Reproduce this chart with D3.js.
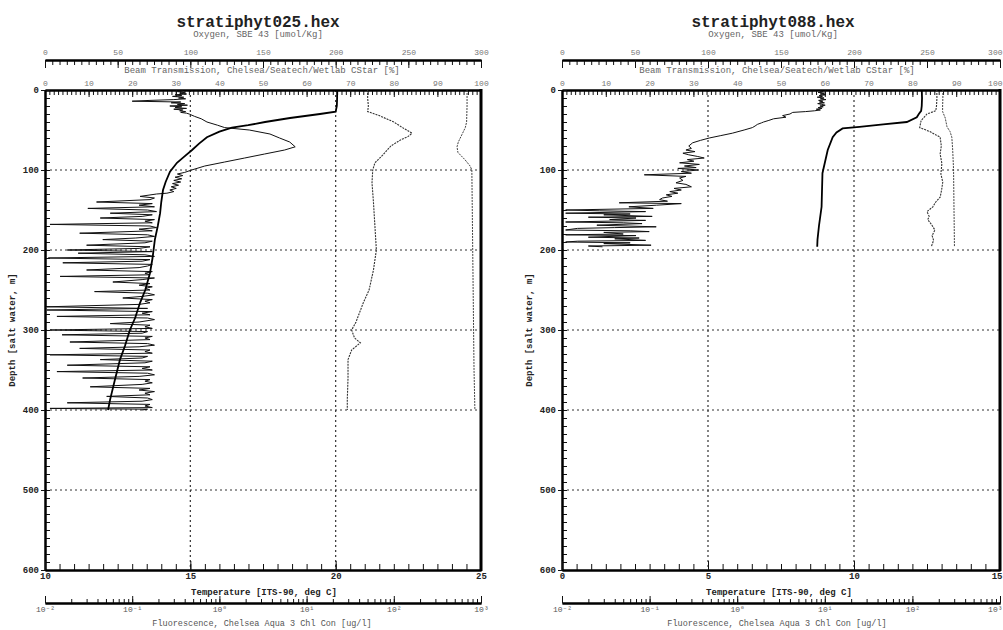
<!DOCTYPE html>
<html>
<head>
<meta charset="utf-8">
<script src="https://cdn.jsdelivr.net/npm/d3@7"></script>
<style>
  body { margin: 0; background: #fff; }
  text { font-family: "Liberation Mono", "DejaVu Sans Mono", monospace; fill: #222; }
</style>
</head>
<body>
<svg id="chart" width="1003" height="630"></svg>
<script>
////  data ([depth m, value])

var titles = ["stratiphyt025.hex", "stratiphyt088.hex"];
var depthTicks = [0, 100, 200, 300, 400, 500, 600];
var tempDomain025 = [10, 25];
var tempDomain088 = [0, 15];
var fluoTicks = [0.01, 0.1, 1, 10, 100, 1000];

// stratiphyt025
var temp025 = [[0,20.05],[10,20.05],[20,20.04],[27,20.0],[30,19.46],[35,18.43],[40,17.57],[44,16.99],[47,16.43],[52,16.0],
  [59,15.57],[67,15.3],[75,15.06],[83,14.8],[91,14.54],[102,14.3],[115,14.15],[125,14.06],[140,14.0],[154,13.96],
  [170,13.88],[187,13.78],[210,13.7],[229,13.61],[250,13.45],[266,13.27],[285,13.1],[300,12.92],[320,12.75],
  [337,12.58],[360,12.42],[387,12.24],[400,12.17]];
var oxy025 = [[0,222],[10,222],[20,222.5],[27,222],[32,230],[40,240],[47,246],[54,252.5],[58,250],[62,245],[70,238],
  [81,232.6],[91,227],[100,225.5],[116,225],[140,226],[170,227],[200,228],[225,226],[250,223],[266,219],[290,214],
  [300,211],[310,213],[316,217],[325,211],[337,208.5],[360,208.5],[387,208],[400,208]];
var beam025 = [[0,96.8],[20,96.8],[40,96.7],[47,96.4],[56,95.6],[65,94.8],[71,94.5],[78,94.7],[87,96.3],[95,97.5],
  [100,97.9],[150,98.0],[200,98.1],[250,98.2],[300,98.3],[350,98.4],[400,98.6]];
var fluo025 = [[1,0.38],[2,0.33],[3,0.40],[4,0.35],[5,0.42],[6,0.31],[7,0.37],[8,0.29],[9,0.39],[10,0.34],[11,0.41],
  [12,0.30],[13,0.16],[14,0.10],[15,0.36],[16,0.28],[17,0.40],[18,0.33],[19,0.43],[20,0.27],[21,0.37],[22,0.31],
  [23,0.42],[24,0.30],[25,0.38],[26,0.35],[27,0.41],[28,0.36],[29,0.42],[30,0.45],[33,0.52],[36,0.62],[40,0.72],
  [44,0.95],[47,1.15],[50,2.2],[55,3.8],[60,4.9],[65,6.4],[71,7.4],[75,5.6],[80,3.3],[85,1.95],[90,1.15],[95,0.68],
  [100,0.48],[103,0.40],[105,0.33],[107,0.38],[109,0.31],[111,0.37],[113,0.30],[115,0.36],[117,0.29],[119,0.34],
  [121,0.28],[123,0.32],[125,0.27],[127,0.30],[129,0.25],
  [130,0.19],[133,0.123],[135,0.18],[137,0.16],[140,0.039],[142,0.17],[144,0.12],[146,0.18],[148,0.031],[150,0.15],
  [152,0.19],[154,0.056],[156,0.17],[158,0.13],[160,0.043],[162,0.18],[164,0.14],[166,0.17],[168,0.0114],[170,0.16],
  [172,0.19],[174,0.12],[176,0.17],[179,0.025],[181,0.15],[183,0.18],[185,0.11],[187,0.046],[189,0.17],[191,0.14],
  [194,0.030],[196,0.16],[198,0.12],[200,0.018],[202,0.17],[204,0.024],[206,0.14],[208,0.18],[210,0.0109],[212,0.16],
  [214,0.13],[216,0.016],[218,0.17],[220,0.15],[222,0.12],[225,0.030],[227,0.17],[229,0.14],[231,0.16],[233,0.0149],
  [235,0.18],[237,0.13],[240,0.060],[242,0.16],[244,0.12],[246,0.17],[248,0.14],[250,0.16],[252,0.037],[254,0.15],
  [256,0.18],[258,0.13],[260,0.078],[262,0.17],[264,0.14],[266,0.16],[268,0.12],[271,0.0105],[273,0.15],[275,0.0105],
  [277,0.17],[279,0.13],[281,0.16],[283,0.0137],[285,0.15],[287,0.18],[290,0.12],[292,0.056],[294,0.16],[296,0.14],
  [298,0.17],[300,0.0114],[302,0.15],[304,0.13],[306,0.0157],[308,0.17],[310,0.14],[312,0.16],[315,0.0193],[317,0.15],
  [319,0.18],[321,0.12],[323,0.025],[325,0.16],[327,0.14],[329,0.17],[331,0.0114],[333,0.15],[335,0.13],[337,0.043],
  [339,0.17],[341,0.14],[344,0.018],[346,0.16],[348,0.13],[350,0.17],[352,0.0137],[354,0.15],[356,0.18],[358,0.12],
  [360,0.027],[362,0.16],[364,0.14],[366,0.17],[368,0.13],[371,0.033],[373,0.16],[375,0.12],[377,0.18],[379,0.14],
  [381,0.16],[383,0.051],[385,0.15],[387,0.17],[389,0.13],[391,0.018],[393,0.16],[395,0.14],[397,0.17],[398,0.0114],
  [399,0.15],[400,0.13]];

// stratiphyt088
var temp088 = [[0,12.32],[10,12.33],[20,12.32],[26,12.3],[30,12.22],[34,12.15],[40,11.81],[43,11.0],[46,10.19],[48,9.61],
  [53,9.4],[59,9.27],[75,9.10],[104,8.92],[146,8.89],[170,8.8],[187,8.75],[196,8.74]];
var oxy088 = [[0,256.7],[10,256.8],[20,256.5],[26,256],[30,250],[38,246],[47,245],[52,252],[59,259],[70,259.8],[80,259],
  [92,260.2],[105,259.5],[115,260.8],[125,260],[134,259],[140,256],[146,254],[152,250],[158,251.5],[162,250.5],[168,253],
  [175,255.4],[182,253.5],[188,254.5],[194,253.3],[196,253]];
var beam088 = [[0,86.96],[10,86.96],[20,86.9],[27,86.9],[35,87.5],[46,87.9],[52,88.6],[59,89.0],[75,89.2],[100,89.4],
  [150,89.5],[196,89.6]];
var fluo088 = [[1,8.8],[2,9.6],[3,8.4],[4,9.9],[5,9.0],[6,10.2],[7,8.6],[8,9.4],[9,8.2],[10,9.8],[11,8.9],[12,10.3],
  [13,8.5],[14,9.5],[15,8.7],[16,9.9],[17,8.3],[18,9.2],[19,10.1],[20,8.8],[21,9.6],[22,8.4],[23,9.3],[24,8.0],
  [25,8.9],[26,7.6],[27,6.0],[28,4.3],[30,4.0],[32,3.3],[34,3.6],[36,2.6],[38,2.3],[40,2.0],[41,1.9],[43,1.7],
  [45,1.6],[47,1.49],[50,1.2],[54,0.88],[57,0.65],[60,0.48],[63,0.38],[66,0.31],[70,0.28],[73,0.30],[75,0.26],
  [77,0.33],[79,0.24],[81,0.28],[83,0.35],[85,0.42],[87,0.27],[89,0.32],[91,0.22],[93,0.37],[95,0.25],[97,0.34],
  [98,0.21],[100,0.36],[102,0.23],[104,0.30],[106,0.087],[108,0.26],[110,0.22],[113,0.24],[116,0.20],[118,0.26],
  [121,0.30],[123,0.19],[125,0.23],[127,0.17],[129,0.21],[131,0.155],[133,0.18],[135,0.14],[137,0.13],[139,0.16],
  [141,0.045],[142,0.23],[144,0.12],[146,0.058],[148,0.11],[150,0.011],[151,0.027],[152,0.09],[154,0.011],[155,0.06],
  [156,0.03],[158,0.107],[159,0.02],[160,0.07],[162,0.035],[163,0.09],[165,0.011],[166,0.05],[167,0.082],[169,0.025],
  [171,0.119],[172,0.04],[173,0.015],[175,0.011],[176,0.06],[177,0.099],[178,0.03],[180,0.05],[181,0.011],[182,0.07],
  [184,0.02],[185,0.076],[186,0.04],[188,0.09],[189,0.015],[190,0.011],[191,0.06],[192,0.03],[194,0.104],[195,0.02],
  [196,0.029]];

////////////////////////////////////////////////////////////////////

var svg = d3.select("#chart");
svg.append("rect").attr("width", 1003).attr("height", 630).attr("fill", "#fff");

var sup = {"-": "\u207B", "0": "\u2070", "1": "\u00B9", "2": "\u00B2", "3": "\u00B3"};
function logLabel(d) {
  var e = String(Math.round(Math.log10(d)));
  return "10" + e.split("").map(function(c){ return sup[c]; }).join("");
}

// log minor ticks 1..9 per decade
var fluoMinor = [];
for (var k = -2; k < 3; k++) {
  for (var m = 1; m < 10; m++) fluoMinor.push(m * Math.pow(10, k));
}
fluoMinor.push(1000);

function drawPanel(cfg) {
  var x0 = cfg.x0, x1 = cfg.x1;
  var g = svg.append("g");

  var y = d3.scaleLinear().domain([0, 600]).range([90, 570]);
  var xT = d3.scaleLinear().domain(cfg.tempDomain).range([x0, x1]);
  var xO = d3.scaleLinear().domain([0, 300]).range([x0, x1]);
  var xB = d3.scaleLinear().domain([0, 100]).range([x0, x1]);
  var xF = d3.scaleLog().domain([0.01, 1000]).range([x0, x1]).clamp(true);

  // grid
  g.selectAll(".hgrid").data([100, 200, 300, 400, 500]).enter().append("line")
    .attr("x1", x0).attr("x2", x1).attr("y1", function(d){ return y(d); }).attr("y2", function(d){ return y(d); })
    .attr("stroke", "#333").attr("stroke-width", 1).attr("stroke-dasharray", "2,3");
  var tMid = [cfg.tempDomain[0] + 5, cfg.tempDomain[0] + 10];
  g.selectAll(".vgrid").data(tMid).enter().append("line")
    .attr("x1", function(d){ return xT(d); }).attr("x2", function(d){ return xT(d); })
    .attr("y1", 90).attr("y2", 570)
    .attr("stroke", "#333").attr("stroke-width", 1.2).attr("stroke-dasharray", "2,3");

  // title
  g.append("text").attr("x", cfg.titleX).attr("y", 27).attr("text-anchor", "middle")
    .style("font-size", "16px").style("font-weight", "bold").text(cfg.title);

  // oxygen axis (top)
  g.append("text").attr("x", cfg.titleX).attr("y", 37).attr("text-anchor", "middle")
    .style("font-size", "9px").style("fill", "#666").text("Oxygen, SBE 43 [umol/Kg]");
  g.append("g").attr("transform", "translate(0,60)")
    .call(d3.axisTop(xO).tickValues(d3.range(0, 301, 5)).tickSize(-5).tickSizeOuter(0).tickFormat(""));
  var oMajor = g.append("g").attr("transform", "translate(0,60)")
    .call(d3.axisTop(xO).tickValues(d3.range(0, 301, 50)).tickSize(-8).tickSizeOuter(0).tickPadding(5));
  oMajor.selectAll("text").style("font-size", "8px").style("fill", "#777");

  // beam transmission axis (top of frame)
  g.append("text").attr("x", cfg.titleX + 4).attr("y", 73).attr("text-anchor", "middle")
    .style("font-size", "9px").style("fill", "#666")
    .text("Beam Transmission, Chelsea/Seatech/Wetlab CStar [%]");
  g.append("g").attr("transform", "translate(0,90)")
    .call(d3.axisTop(xB).tickValues(d3.range(0, 101, 1)).tickSize(-5).tickSizeOuter(0).tickFormat(""));
  var bMajor = g.append("g").attr("transform", "translate(0,90)")
    .call(d3.axisTop(xB).tickValues(d3.range(0, 101, 10)).tickSize(-7).tickSizeOuter(0).tickPadding(4));
  bMajor.selectAll("text").style("font-size", "8px").style("fill", "#777");

  // depth axis
  g.append("g").attr("transform", "translate(" + x0 + ",0)")
    .call(d3.axisLeft(y).tickValues(d3.range(0, 601, 10)).tickSize(-5).tickSizeOuter(0).tickFormat(""));
  var dMajor = g.append("g").attr("transform", "translate(" + x0 + ",0)")
    .call(d3.axisLeft(y).tickValues(depthTicks).tickSize(4).tickSizeOuter(0).tickPadding(2));
  dMajor.selectAll("text").style("font-size", "9px").style("font-weight", "bold");
  g.append("text").attr("transform", "translate(" + (x0 - 30) + ",330) rotate(-90)")
    .attr("text-anchor", "middle").style("font-size", "9px").style("font-weight", "bold")
    .text("Depth [salt water, m]");

  // temperature axis (bottom of frame)
  g.append("g").attr("transform", "translate(0,570)")
    .call(d3.axisBottom(xT).tickValues(d3.range(cfg.tempDomain[0], cfg.tempDomain[1] + 0.01, 0.5))
      .tickSize(-6).tickSizeOuter(0).tickFormat(""));
  var tMajor = g.append("g").attr("transform", "translate(0,570)")
    .call(d3.axisBottom(xT).tickValues(d3.range(cfg.tempDomain[0], cfg.tempDomain[1] + 1, 5))
      .tickSize(-9).tickSizeOuter(0).tickPadding(3));
  tMajor.selectAll("text").style("font-size", "9px").style("font-weight", "bold");
  g.append("text").attr("x", cfg.titleX + 6).attr("y", 595).attr("text-anchor", "middle")
    .style("font-size", "9px").style("font-weight", "bold").text("Temperature [ITS-90, deg C]");

  // fluorescence axis (log)
  g.append("g").attr("transform", "translate(0,603)")
    .call(d3.axisBottom(xF).tickValues(fluoMinor).tickSize(-4).tickSizeOuter(0).tickFormat(""));
  var fMajor = g.append("g").attr("transform", "translate(0,603)")
    .call(d3.axisBottom(xF).tickValues(fluoTicks).tickSize(-7).tickSizeOuter(0).tickPadding(3).tickFormat(logLabel));
  fMajor.selectAll("text").style("font-size", "8px").style("fill", "#555");
  g.append("text").attr("x", cfg.titleX + 4).attr("y", 626).attr("text-anchor", "middle")
    .style("font-size", "8.5px").style("fill", "#555").text("Fluorescence, Chelsea Aqua 3 Chl Con [ug/l]");

  // keep the last label of each axis inside the page on the right panel
  if (cfg.lastLabelsEnd) {
    [oMajor, bMajor, tMajor, fMajor].forEach(function(ax) {
      ax.selectAll(".tick").filter(function(d, i, n){ return i === n.length - 1; })
        .select("text").attr("text-anchor", "end").attr("dx", "2px");
    });
  }

  g.selectAll(".domain").attr("stroke-width", 2);
  g.selectAll(".tick line").attr("stroke", "#111");

  // right border
  g.append("line").attr("x1", x1).attr("x2", x1).attr("y1", 89).attr("y2", 571)
    .attr("stroke", "#000").attr("stroke-width", 3);

  // profiles
  function profile(data, xs) {
    return d3.line().x(function(d){ return xs(d[1]); }).y(function(d){ return y(d[0]); })(data);
  }
  g.append("path").attr("d", profile(cfg.beam, xB)).attr("fill", "none")
    .attr("stroke", "#444").attr("stroke-width", 1).attr("stroke-dasharray", "2,1");
  g.append("path").attr("d", profile(cfg.oxy, xO)).attr("fill", "none")
    .attr("stroke", "#333").attr("stroke-width", 1.1).attr("stroke-dasharray", "2,1");
  g.append("path").attr("d", profile(cfg.fluo, xF)).attr("fill", "none")
    .attr("stroke", "#111").attr("stroke-width", 1);
  g.append("path").attr("d", profile(cfg.temp, xT)).attr("fill", "none")
    .attr("stroke", "#000").attr("stroke-width", 1.8);
}

drawPanel({title: titles[0], x0: 45, x1: 481, titleX: 258, tempDomain: tempDomain025,
  temp: temp025, oxy: oxy025, beam: beam025, fluo: fluo025, lastLabelsEnd: false});
drawPanel({title: titles[1], x0: 562, x1: 1000, titleX: 773, tempDomain: tempDomain088,
  temp: temp088, oxy: oxy088, beam: beam088, fluo: fluo088, lastLabelsEnd: true});
</script>
</body>
</html>
